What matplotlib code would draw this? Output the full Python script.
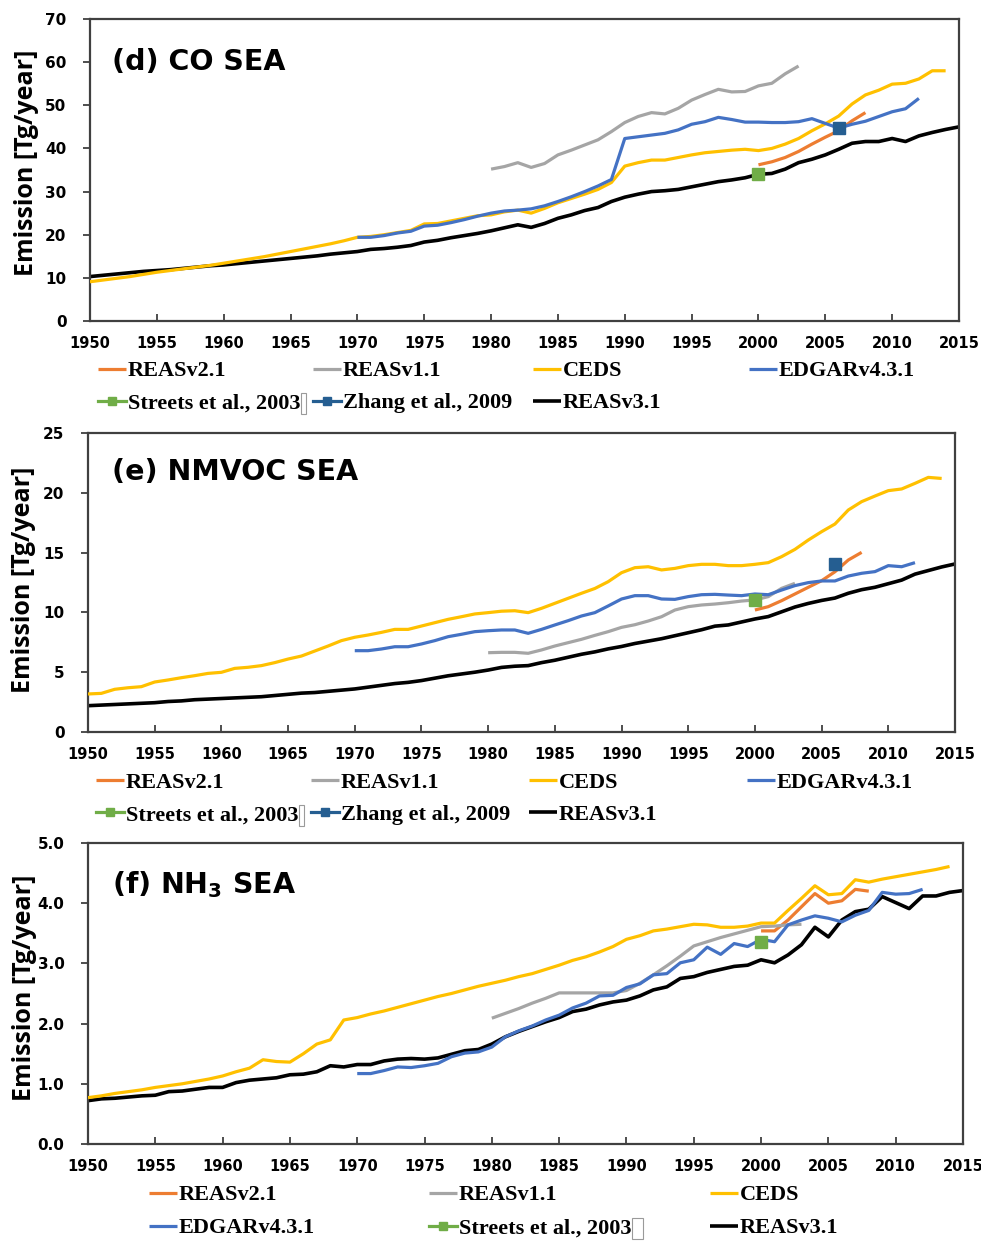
import numpy as np
import matplotlib
matplotlib.use("Agg")
import matplotlib.pyplot as plt
from matplotlib.lines import Line2D
from matplotlib.patches import Rectangle
from matplotlib.ticker import MultipleLocator, FormatStrFormatter

# ---------------- data (Tg/year) ----------------
# (d) CO
co_reas2_start = 2000
co_reas2 = [36.2, 36.9, 37.9, 39.3, 41.0, 42.6, 44.1, 46.4, 48.3]
co_reas1_start = 1980
co_reas1 = [35.2, 35.8, 36.7, 35.6, 36.5, 38.5, 39.6, 40.8, 42.0, 43.9,
            46.0, 47.4, 48.3, 48.0, 49.3, 51.2, 52.5, 53.7, 53.1, 53.2,
            54.5, 55.1, 57.3, 59.1]
co_ceds_start = 1950
co_ceds = [9.1, 9.5, 9.9, 10.3, 10.8, 11.3, 11.7, 12.1, 12.5, 12.9,
           13.4, 13.9, 14.4, 14.9, 15.5, 16.1, 16.7, 17.3, 17.9, 18.6,
           19.4, 19.6, 20.0, 20.5, 21.0, 22.5, 22.6, 23.2, 23.8, 24.4,
           24.6, 25.3, 25.7, 25.0, 26.1, 27.4, 28.4, 29.4, 30.5, 32.1,
           35.9, 36.7, 37.3, 37.3, 37.9, 38.5, 39.0, 39.3, 39.6, 39.8,
           39.5, 40.0, 41.0, 42.3, 44.1, 45.7, 47.5, 50.3, 52.4, 53.5,
           54.9, 55.1, 56.1, 58.0, 58.0]
co_edgar_start = 1970
co_edgar = [19.4, 19.4, 19.8, 20.4, 20.8, 22.0, 22.2, 22.8, 23.5, 24.3,
            25.0, 25.5, 25.7, 26.0, 26.7, 27.7, 28.8, 30.0, 31.3, 32.8,
            42.3, 42.7, 43.1, 43.5, 44.3, 45.6, 46.2, 47.2, 46.7, 46.1,
            46.1, 46.0, 46.0, 46.2, 46.9, 45.8, 44.7, 45.6, 46.3, 47.4,
            48.5, 49.2, 51.6]
co_streets = (2000, 34.1)
co_zhang = (2006, 44.7)
co_reas3_start = 1950
co_reas3 = [10.3, 10.6, 10.9, 11.2, 11.5, 11.7, 11.9, 12.2, 12.5, 12.8,
            13.0, 13.3, 13.6, 13.9, 14.2, 14.5, 14.8, 15.1, 15.5, 15.8,
            16.1, 16.6, 16.8, 17.1, 17.5, 18.3, 18.7, 19.3, 19.8, 20.3,
            20.9, 21.6, 22.3, 21.7, 22.6, 23.8, 24.6, 25.6, 26.3, 27.7,
            28.7, 29.4, 30.0, 30.2, 30.5, 31.1, 31.7, 32.3, 32.7, 33.2,
            34.0, 34.2, 35.2, 36.7, 37.5, 38.5, 39.8, 41.2, 41.6, 41.6,
            42.3, 41.6, 42.9, 43.7, 44.4, 45.0]

# (e) NMVOC
voc_reas2_start = 2000
voc_reas2 = [10.2, 10.48, 10.98, 11.54, 12.1, 12.65, 13.4, 14.38, 15.02]
voc_reas1_start = 1980
voc_reas1 = [6.63, 6.66, 6.66, 6.58, 6.86, 7.19, 7.47, 7.75, 8.08, 8.39,
             8.75, 8.97, 9.28, 9.64, 10.2, 10.48, 10.62, 10.70, 10.81, 10.95,
             11.04, 11.32, 12.01, 12.43]
voc_ceds_start = 1950
voc_ceds = [3.18, 3.23, 3.57, 3.70, 3.79, 4.18, 4.35, 4.54, 4.71, 4.90,
            4.99, 5.32, 5.41, 5.55, 5.80, 6.10, 6.35, 6.77, 7.19, 7.64,
            7.92, 8.11, 8.33, 8.58, 8.58, 8.86, 9.14, 9.42, 9.64, 9.87,
            9.98, 10.1, 10.14, 9.98, 10.34, 10.76, 11.18, 11.6, 12.0, 12.57,
            13.32, 13.74, 13.82, 13.55, 13.68, 13.91, 14.02, 14.02, 13.91, 13.91,
            14.02, 14.16, 14.66, 15.27, 16.05, 16.75, 17.39, 18.56, 19.26, 19.73,
            20.18, 20.32, 20.79, 21.29, 21.2]
voc_edgar_start = 1970
voc_edgar = [6.80, 6.80, 6.94, 7.13, 7.13, 7.36, 7.64, 7.97, 8.17, 8.39,
             8.47, 8.53, 8.53, 8.25, 8.58, 8.95, 9.31, 9.70, 9.98, 10.54,
             11.12, 11.40, 11.40, 11.12, 11.09, 11.32, 11.48, 11.51, 11.45, 11.40,
             11.54, 11.48, 11.87, 12.24, 12.49, 12.63, 12.63, 13.04, 13.27, 13.41,
             13.91, 13.82, 14.16]
voc_streets = (2000, 11.04)
voc_zhang = (2006, 14.05)
voc_reas3_start = 1950
voc_reas3 = [2.2, 2.25, 2.3, 2.35, 2.4, 2.45, 2.55, 2.6, 2.7, 2.75,
             2.8, 2.85, 2.9, 2.95, 3.05, 3.15, 3.25, 3.3, 3.4, 3.5,
             3.6, 3.75, 3.9, 4.05, 4.15, 4.3, 4.5, 4.7, 4.85, 5.0,
             5.18, 5.4, 5.5, 5.55, 5.8, 6.0, 6.25, 6.5, 6.7, 6.95,
             7.15, 7.4, 7.6, 7.8, 8.05, 8.3, 8.55, 8.85, 8.95, 9.2,
             9.45, 9.65, 10.05, 10.45, 10.75, 11.0, 11.2, 11.6, 11.9, 12.1,
             12.4, 12.7, 13.2, 13.5, 13.8, 14.05]

# (f) NH3
nh3_reas2_start = 2000
nh3_reas2 = [3.54, 3.54, 3.72, 3.94, 4.16, 4.00, 4.04, 4.23, 4.20]
nh3_reas1_start = 1980
nh3_reas1 = [2.09, 2.17, 2.25, 2.34, 2.42, 2.51, 2.51, 2.51, 2.51, 2.51,
             2.55, 2.67, 2.81, 2.96, 3.12, 3.29, 3.36, 3.43, 3.49, 3.55,
             3.61, 3.62, 3.64, 3.65]
nh3_ceds_start = 1950
nh3_ceds = [0.77, 0.80, 0.84, 0.87, 0.90, 0.94, 0.97, 1.00, 1.04, 1.08,
            1.13, 1.20, 1.26, 1.40, 1.37, 1.36, 1.50, 1.66, 1.73, 2.06,
            2.10, 2.16, 2.21, 2.27, 2.33, 2.39, 2.45, 2.50, 2.56, 2.62,
            2.67, 2.72, 2.78, 2.83, 2.90, 2.97, 3.05, 3.11, 3.19, 3.28,
            3.40, 3.46, 3.54, 3.57, 3.61, 3.65, 3.64, 3.60, 3.60, 3.62,
            3.67, 3.67, 3.88, 4.08, 4.29, 4.14, 4.16, 4.39, 4.35, 4.40,
            4.44, 4.48, 4.52, 4.56, 4.61]
nh3_edgar_start = 1970
nh3_edgar = [1.17, 1.17, 1.22, 1.28, 1.27, 1.30, 1.34, 1.45, 1.51, 1.53,
             1.61, 1.78, 1.88, 1.96, 2.06, 2.14, 2.26, 2.34, 2.46, 2.47,
             2.60, 2.66, 2.81, 2.83, 3.01, 3.06, 3.27, 3.15, 3.33, 3.28,
             3.40, 3.36, 3.64, 3.72, 3.79, 3.75, 3.69, 3.80, 3.88, 4.18,
             4.15, 4.16, 4.23]
nh3_streets = (2000, 3.36)
nh3_reas3_start = 1950
nh3_reas3 = [0.72, 0.75, 0.76, 0.78, 0.80, 0.81, 0.87, 0.88, 0.91, 0.94,
             0.94, 1.02, 1.06, 1.08, 1.10, 1.15, 1.16, 1.20, 1.30, 1.28,
             1.32, 1.32, 1.38, 1.41, 1.42, 1.41, 1.43, 1.49, 1.55, 1.57,
             1.66, 1.78, 1.87, 1.95, 2.03, 2.10, 2.20, 2.24, 2.31, 2.36,
             2.39, 2.46, 2.56, 2.61, 2.75, 2.78, 2.85, 2.90, 2.95, 2.97,
             3.06, 3.01, 3.14, 3.31, 3.60, 3.44, 3.72, 3.86, 3.90, 4.11,
             4.01, 3.91, 4.12, 4.12, 4.18, 4.21]

x_ticks = list(range(1950, 2016, 5))

# ---------------- style ----------------
C_REAS2 = "#ED7D31"
C_REAS1 = "#A5A5A5"
C_CEDS = "#FFC000"
C_EDGAR = "#4472C4"
C_STREETS = "#70AD47"
C_ZHANG = "#255E91"
C_REAS3 = "#000000"
FRAME = "#404040"
LW = 2.3

W, H = 981, 1241
fig = plt.figure(figsize=(W / 100, H / 100), dpi=100)
plt.rcParams["mathtext.fontset"] = "custom"
plt.rcParams["mathtext.rm"] = "DejaVu Sans:bold"
plt.rcParams["mathtext.bf"] = "DejaVu Sans:bold"

legend_font = {"family": ["Liberation Serif", "DejaVu Serif"], "weight": "bold", "size": 16}


def add_axes(left, top, right, bottom):
    return fig.add_axes([left / W, 1 - bottom / H, (right - left) / W, (bottom - top) / H])


def line(ax, start, values, color, lw=LW, z=3):
    yrs = np.arange(start, start + len(values))
    (ln,) = ax.plot(yrs, values, color=color, lw=lw, zorder=z,
                    solid_joinstyle="round", solid_capstyle="butt")
    return ln


def point(ax, pt, color):
    ax.plot([pt[0]], [pt[1]], marker="s", ms=8.5, color=color, ls="none", zorder=6)
    return Line2D([], [], color=color, lw=LW, marker="s", ms=5.5)


def style_axes(ax, ymax, ystep, yfmt):
    ax.set_xlim(1950, 2015)
    ax.set_ylim(0, ymax)
    ax.set_xticks(x_ticks)
    ax.yaxis.set_major_locator(MultipleLocator(ystep))
    ax.yaxis.set_major_formatter(FormatStrFormatter(yfmt))
    for s in ax.spines.values():
        s.set_color(FRAME)
        s.set_linewidth(1.6)
    ax.tick_params(axis="x", direction="in", length=5, width=1.3, color=FRAME, pad=10.5)
    ax.tick_params(axis="y", direction="out", length=5, width=1.3, color=FRAME, pad=12)
    for lab in ax.get_xticklabels():
        lab.set_family(["Liberation Sans Narrow", "DejaVu Sans"])
        lab.set_fontweight("bold")
        lab.set_fontsize(10.5)
    for lab in ax.get_yticklabels():
        lab.set_family("DejaVu Sans")
        lab.set_fontweight("bold")
        lab.set_fontsize(11)


def ylabel(x, y):
    fig.text(x / W, 1 - y / H, "Emission [Tg/year]", rotation=90, ha="center", va="center",
             family="Open Sans", fontweight="bold", fontsize=18)


def title(x, y, s):
    fig.text(x / W, 1 - y / H, s, ha="left", va="baseline",
             family="DejaVu Sans", fontweight="bold", fontsize=20.5)


boxed_legends = []


def legend_entry(handle, label, x, y, boxed=False, box_w=5):
    leg = fig.legend(handles=[handle], labels=[label], loc="center left",
                     bbox_to_anchor=(x / W, 1 - y / H), frameon=False, borderpad=0,
                     borderaxespad=0, handlelength=1.25, handletextpad=0.1, prop=legend_font)
    if boxed:
        boxed_legends.append((leg, box_w))


# ---------------- (d) CO ----------------
ax = add_axes(90, 19, 959, 321)
h_r3 = line(ax, co_reas3_start, co_reas3, C_REAS3, lw=2.6, z=2)
h_r2 = line(ax, co_reas2_start, co_reas2, C_REAS2)
h_r1 = line(ax, co_reas1_start, co_reas1, C_REAS1)
h_ce = line(ax, co_ceds_start, co_ceds, C_CEDS)
h_ed = line(ax, co_edgar_start, co_edgar, C_EDGAR)
h_st = point(ax, co_streets, C_STREETS)
h_zh = point(ax, co_zhang, C_ZHANG)
style_axes(ax, 70, 10, "%d")
ylabel(27, 163)
title(112, 70, "(d) CO SEA")
legend_entry(h_r2, "REASv2.1", 98, 371)
legend_entry(h_r1, "REASv1.1", 313, 371)
legend_entry(h_ce, "CEDS", 533, 371)
legend_entry(h_ed, "EDGARv4.3.1", 749, 371)
legend_entry(h_st, "Streets et al., 2003", 98, 403, boxed=True, box_w=5)
legend_entry(h_zh, "Zhang et al., 2009", 313, 403)
legend_entry(h_r3, "REASv3.1", 533, 403)

# ---------------- (e) NMVOC ----------------
ax = add_axes(88, 433, 955, 732)
h_r3 = line(ax, voc_reas3_start, voc_reas3, C_REAS3, lw=2.6, z=2)
h_r2 = line(ax, voc_reas2_start, voc_reas2, C_REAS2)
h_r1 = line(ax, voc_reas1_start, voc_reas1, C_REAS1)
h_ce = line(ax, voc_ceds_start, voc_ceds, C_CEDS)
h_ed = line(ax, voc_edgar_start, voc_edgar, C_EDGAR)
h_st = point(ax, voc_streets, C_STREETS)
h_zh = point(ax, voc_zhang, C_ZHANG)
style_axes(ax, 25, 5, "%d")
ylabel(24, 580)
title(112, 480, "(e) NMVOC SEA")
legend_entry(h_r2, "REASv2.1", 96, 783)
legend_entry(h_r1, "REASv1.1", 311, 783)
legend_entry(h_ce, "CEDS", 529, 783)
legend_entry(h_ed, "EDGARv4.3.1", 747, 783)
legend_entry(h_st, "Streets et al., 2003", 96, 815, boxed=True, box_w=5)
legend_entry(h_zh, "Zhang et al., 2009", 311, 815)
legend_entry(h_r3, "REASv3.1", 529, 815)

# ---------------- (f) NH3 ----------------
ax = add_axes(88, 843, 963, 1144)
h_r3 = line(ax, nh3_reas3_start, nh3_reas3, C_REAS3, lw=2.6, z=2)
h_r2 = line(ax, nh3_reas2_start, nh3_reas2, C_REAS2)
h_r1 = line(ax, nh3_reas1_start, nh3_reas1, C_REAS1)
h_ce = line(ax, nh3_ceds_start, nh3_ceds, C_CEDS)
h_ed = line(ax, nh3_edgar_start, nh3_edgar, C_EDGAR)
h_st = point(ax, nh3_streets, C_STREETS)
style_axes(ax, 5.0, 1.0, "%.1f")
ylabel(25, 988)
title(112, 893, r"(f) NH$_\mathbf{3}$ SEA")
legend_entry(h_r2, "REASv2.1", 149, 1195)
legend_entry(h_r1, "REASv1.1", 429, 1195)
legend_entry(h_ce, "CEDS", 710, 1195)
legend_entry(h_ed, "EDGARv4.3.1", 149, 1228)
legend_entry(h_st, "Streets et al., 2003", 429, 1228, boxed=True, box_w=11)
legend_entry(h_r3, "REASv3.1", 710, 1228)

# thin outline box trailing the "Streets et al., 2003" label
fig.canvas.draw()
renderer = fig.canvas.get_renderer()
for leg, bw in boxed_legends:
    bb = leg.get_texts()[0].get_window_extent(renderer)
    fig.add_artist(Rectangle((bb.x1 / W, (bb.y0 - 1) / H), bw / W, (bb.height + 1) / H,
                             transform=fig.transFigure, fill=False,
                             edgecolor="#9a9a9a", lw=0.8))

fig.savefig("out.png", dpi=100)
